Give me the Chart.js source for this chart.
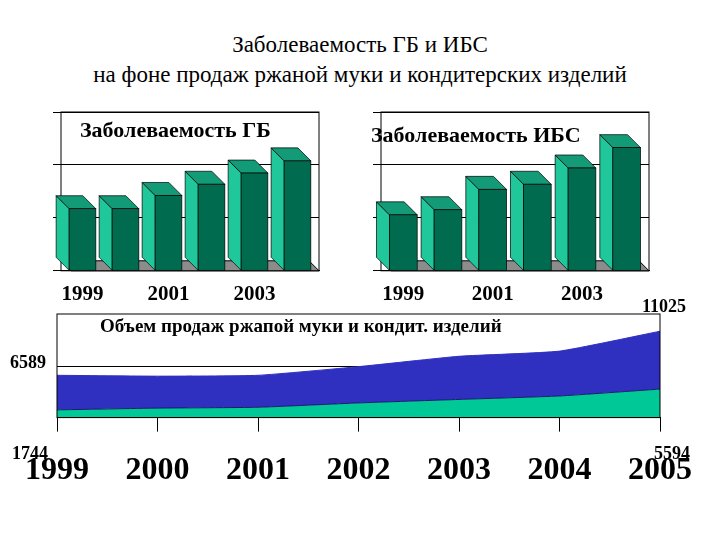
<!DOCTYPE html>
<html><head><meta charset="utf-8">
<script src="https://cdn.jsdelivr.net/npm/chart.js@4"></script>
<style>
body{margin:0;width:720px;height:540px;background:#fff;position:relative;font-family:"Liberation Serif",serif;overflow:hidden}
.t{position:absolute;white-space:nowrap}
canvas{position:absolute}
</style></head><body>
<div class="t" style="left:0;width:720px;text-align:center;top:30px;font-size:23px;line-height:30px">Заболеваемость ГБ и ИБС<br>на фоне продаж ржаной муки и кондитерских изделий</div>
<div style="position:absolute;left:35px;top:110px;width:290px;height:200px"><canvas id="c1"></canvas></div>
<div style="position:absolute;left:355px;top:110px;width:300px;height:200px"><canvas id="c2"></canvas></div>
<div style="position:absolute;left:0;top:300px;width:720px;height:210px"><canvas id="c3"></canvas></div>
<div class="t" style="left:80px;top:117px;font-size:22px;font-weight:bold">Заболеваемость ГБ</div>
<div class="t" style="left:371px;top:122px;font-size:22px;font-weight:bold">Заболеваемость ИБС</div>
<div class="t" style="left:100px;top:315px;font-size:19px;font-weight:bold">Объем продаж ржапой муки и кондит. изделий</div>
<div class="t" style="left:10px;top:352px;font-size:18px;font-weight:bold">6589</div>
<div class="t" style="left:12px;top:443px;font-size:18px;font-weight:bold">1744</div>
<div class="t" style="left:642px;top:296px;font-size:18px;font-weight:bold">11025</div>
<div class="t" style="left:654px;top:443px;font-size:18px;font-weight:bold">5594</div>
<script>
const barYears = ['1999', '2000', '2001', '2002', '2003', '2004']
const gbValues = [61, 61, 74, 85, 96, 108]
const ibsValues = [55, 60, 80, 85, 101, 121]

const areaYears = ['1999', '2000', '2001', '2002', '2003', '2004', '2005']
const ryeFlour = [1000, 1230, 1340, 1900, 2350, 2800, 3690]
const confectionery = [4470, 4130, 4130, 4690, 5580, 5800, 7480]

// fake 3d bars
const bars3d = {
  id: 'bars3d',
  beforeDatasetsDraw(chart) {
    const {ctx, chartArea: a} = chart
    ctx.save()
    ctx.fillStyle = '#8c8c8c'
    ctx.beginPath()
    ctx.moveTo(a.left, a.bottom - 10); ctx.lineTo(a.right - 10, a.bottom - 10)
    ctx.lineTo(a.right, a.bottom); ctx.lineTo(a.left + 10, a.bottom); ctx.closePath()
    ctx.fill(); ctx.stroke()
    ctx.restore()
  },
  afterDatasetsDraw(chart) {
    const ctx = chart.ctx
    const d = 13
    ctx.save()
    ctx.strokeStyle = '#000'; ctx.lineWidth = 0.7
    chart.getDatasetMeta(0).data.forEach(b => {
      const l = b.x - b.width / 2, r = b.x + b.width / 2, t = b.y, bo = b.base
      ctx.fillStyle = '#1fc79a'
      ctx.beginPath(); ctx.moveTo(l - d, t - d); ctx.lineTo(l, t); ctx.lineTo(l, bo); ctx.lineTo(l - d, bo - d); ctx.closePath(); ctx.fill(); ctx.stroke()
      ctx.fillStyle = '#139a76'
      ctx.beginPath(); ctx.moveTo(l - d, t - d); ctx.lineTo(r - d, t - d); ctx.lineTo(r, t); ctx.lineTo(l, t); ctx.closePath(); ctx.fill(); ctx.stroke()
      ctx.fillStyle = '#006b4f'
      ctx.fillRect(l, t, r - l, bo - t); ctx.strokeRect(l, t, r - l, bo - t)
    })
    ctx.restore()
  }
}

function barChart(id, values) {
  new Chart(document.getElementById(id), {
    type: 'bar',
    data: {labels: barYears, datasets: [{data: values, backgroundColor: 'rgba(0,0,0,0)', barPercentage: 0.62, categoryPercentage: 1}]},
    options: {
      responsive: true, maintainAspectRatio: false, animation: false,
      layout: {padding: {left: 18, right: 6, top: 2}},
      plugins: {legend: {display: false}, tooltip: {enabled: false}},
      scales: {
        x: {grid: {display: false}, border: {color: '#000'},
            ticks: {color: '#000', font: {family: 'Liberation Serif', size: 21, weight: 'bold'}, maxRotation: 0, autoSkip: false,
                    callback: (v, i) => i % 2 == 0 ? barYears[i] : ''}},
        y: {min: 0, max: 156, display: true, border: {display: false},
            afterBuildTicks: ax => { ax.ticks = [0, 52, 104, 156].map(v => ({value: v})) },
            grid: {color: '#000', lineWidth: 1}, ticks: {display: false}}
      }
    },
    plugins: [bars3d, {
      id: 'frame',
      beforeDraw(chart) {
        const {ctx, chartArea: a} = chart
        ctx.save(); ctx.strokeStyle = '#000'; ctx.lineWidth = 1
        ctx.strokeRect(a.left, a.top, a.right - a.left, a.bottom - a.top)
        ctx.restore()
      }
    }]
  })
}
barChart('c1', gbValues)
barChart('c2', ibsValues)

new Chart(document.getElementById('c3'), {
  type: 'line',
  data: {
    labels: areaYears,
    datasets: [
      {data: ryeFlour, backgroundColor: '#00c896', borderColor: '#1a1a6a', borderWidth: 1, fill: 'origin', pointRadius: 0, tension: 0.15},
      {data: confectionery, backgroundColor: '#3030c0', borderColor: '#3030c0', borderWidth: 1, fill: '-1', pointRadius: 0, tension: 0.15}
    ]
  },
  options: {
    responsive: true, maintainAspectRatio: false, animation: false,
    layout: {padding: {left: 57, right: 60, top: 14}},
    plugins: {legend: {display: false}, tooltip: {enabled: false}},
    scales: {
      x: {offset: false, grid: {drawOnChartArea: false, color: '#000', tickLength: 14}, border: {color: '#000'},
          ticks: {color: '#000', padding: 20, font: {family: 'Liberation Serif', size: 32, weight: 'bold'}, maxRotation: 0}},
      y: {stacked: true, min: 0, max: 13400, display: true, border: {display: false},
          afterBuildTicks: ax => { ax.ticks = [{value: 6589}] },
          grid: {color: '#000', drawTicks: false}, ticks: {display: false}}
    }
  },
  plugins: [{
    id: 'frame',
    afterDraw(chart) {
      const {ctx, chartArea: a} = chart
      ctx.save(); ctx.strokeStyle = '#000'; ctx.lineWidth = 1
      ctx.strokeRect(a.left, a.top, a.right - a.left, a.bottom - a.top)
      ctx.restore()
    }
  }]
})
</script>
</body></html>
